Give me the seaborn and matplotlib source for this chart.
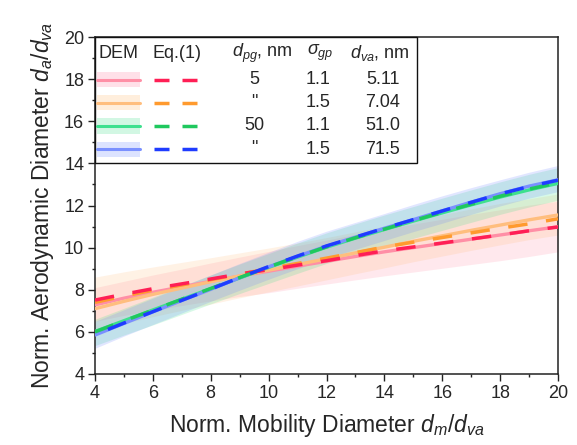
import numpy as np
import pandas as pd
import matplotlib
matplotlib.use("Agg")
import matplotlib.pyplot as plt
from matplotlib.ticker import AutoMinorLocator
from matplotlib.patches import Rectangle
from matplotlib.lines import Line2D
import seaborn as sns

# ---------------- data ----------------
x_vals = [4, 5, 6, 7, 8, 9, 10, 11, 12, 13, 14, 15, 16, 17, 18, 19, 20]

# Eq.(1) curves
eq_red    = [7.51, 7.79, 8.05, 8.28, 8.51, 8.75, 8.95, 9.17, 9.38, 9.62, 9.85, 10.03, 10.22, 10.41, 10.60, 10.80, 10.98]
eq_orange = [7.40, 7.70, 7.98, 8.23, 8.48, 8.74, 9.00, 9.25, 9.50, 9.76, 10.03, 10.26, 10.48, 10.70, 10.92, 11.13, 11.37]
eq_green  = [6.00, 6.52, 7.03, 7.55, 8.06, 8.58, 9.08, 9.57, 10.04, 10.47, 10.88, 11.28, 11.68, 12.06, 12.44, 12.78, 13.08]
eq_blue   = [5.87, 6.42, 6.96, 7.50, 8.03, 8.58, 9.10, 9.60, 10.08, 10.50, 10.92, 11.33, 11.74, 12.15, 12.55, 12.90, 13.20]

# DEM mean curves
dem_red    = [7.28, 7.60, 7.88, 8.14, 8.40, 8.65, 8.88, 9.12, 9.35, 9.58, 9.80, 10.00, 10.20, 10.40, 10.60, 10.80, 10.99]
dem_orange = [7.10, 7.45, 7.78, 8.08, 8.38, 8.66, 8.93, 9.20, 9.47, 9.75, 10.02, 10.30, 10.56, 10.82, 11.07, 11.32, 11.55]
dem_green  = [6.02, 6.53, 7.04, 7.55, 8.05, 8.56, 9.06, 9.55, 10.02, 10.45, 10.86, 11.26, 11.65, 12.03, 12.40, 12.74, 13.05]
dem_blue   = [5.85, 6.40, 6.95, 7.49, 8.02, 8.57, 9.09, 9.59, 10.07, 10.50, 10.92, 11.33, 11.75, 12.16, 12.56, 12.92, 13.22]

# DEM spread (lower / upper edges of shaded bands)
lo_red    = [6.50, 6.78, 7.02, 7.25, 7.47, 7.68, 7.86, 8.07, 8.27, 8.47, 8.66, 8.84, 9.02, 9.20, 9.38, 9.58, 9.80]
hi_red    = [8.10, 8.40, 8.70, 8.98, 9.27, 9.55, 9.82, 10.10, 10.36, 10.63, 10.88, 11.12, 11.35, 11.58, 11.80, 12.02, 12.20]
lo_orange = [6.05, 6.40, 6.72, 7.02, 7.32, 7.62, 7.90, 8.18, 8.47, 8.76, 9.04, 9.33, 9.60, 9.87, 10.13, 10.38, 10.60]
hi_orange = [8.60, 8.85, 9.08, 9.30, 9.52, 9.75, 9.98, 10.22, 10.48, 10.75, 11.02, 11.30, 11.57, 11.84, 12.10, 12.32, 12.55]
lo_green  = [5.35, 5.85, 6.33, 6.83, 7.33, 7.82, 8.30, 8.78, 9.25, 9.66, 10.05, 10.44, 10.82, 11.20, 11.58, 11.93, 12.25]
hi_green  = [6.60, 7.12, 7.65, 8.18, 8.70, 9.22, 9.72, 10.22, 10.70, 11.13, 11.55, 11.95, 12.35, 12.74, 13.12, 13.48, 13.80]
lo_blue   = [5.22, 5.80, 6.35, 6.90, 7.45, 7.98, 8.50, 9.00, 9.48, 9.92, 10.34, 10.76, 11.16, 11.58, 11.98, 12.35, 12.66]
hi_blue   = [6.50, 7.05, 7.60, 8.15, 8.70, 9.25, 9.78, 10.30, 10.78, 11.20, 11.62, 12.05, 12.46, 12.85, 13.22, 13.58, 13.90]

# legend table
leg_dpg = ["5", '"', "50", '"']
leg_sig = ["1.1", "1.5", "1.1", "1.5"]
leg_dva = ["5.11", "7.04", "51.0", "71.5"]

x_ticks = [4, 6, 8, 10, 12, 14, 16, 18, 20]
y_ticks = [4, 6, 8, 10, 12, 14, 16, 18, 20]

# ---------------- styling ----------------
sns.set_theme(style="ticks")
plt.rcParams["font.family"] = ["Liberation Sans", "DejaVu Sans"]
plt.rcParams["mathtext.fontset"] = "custom"
plt.rcParams["mathtext.rm"] = "Liberation Sans"
plt.rcParams["mathtext.it"] = "Liberation Sans:italic"
plt.rcParams["mathtext.bf"] = "Liberation Sans:bold"

dash_cols = ["#FF1F55", "#FF9A2E", "#1FC85E", "#1F3CFF"]
solid_cols = ["#FF8FA6", "#FFBE7E", "#3EE08E", "#7A90FF"]
band_cols = ["#FF7A98", "#FFB466", "#3AE28A", "#6A84FF"]
band_alpha = [0.17, 0.17, 0.20, 0.20]

W, H = 577, 445
fig = plt.figure(figsize=(W / 100, H / 100), dpi=100)
ax = fig.add_axes([95 / W, 1 - 374 / H, (558 - 95) / W, (374 - 37) / H])

dems = [dem_red, dem_orange, dem_green, dem_blue]
eqs = [eq_red, eq_orange, eq_green, eq_blue]
los = [lo_red, lo_orange, lo_green, lo_blue]
his = [hi_red, hi_orange, hi_green, hi_blue]

for i in range(4):
    ax.fill_between(x_vals, los[i], his[i], color=band_cols[i], alpha=band_alpha[i], lw=0, zorder=1)

for i in range(4):
    df = pd.DataFrame({"x": x_vals, "y": dems[i]})
    sns.lineplot(data=df, x="x", y="y", ax=ax, color=solid_cols[i], lw=2.4, zorder=3)

offsets = [0, 0, 0, 7]
order = [1, 0, 2, 3]
for i in order:
    df = pd.DataFrame({"x": x_vals, "y": eqs[i]})
    sns.lineplot(data=df, x="x", y="y", ax=ax, color=dash_cols[i], lw=2.5, zorder=4,
                 linestyle=(offsets[i], (5.6, 5.4)))

ax.set_xlim(4, 20)
ax.set_ylim(4, 20)
ax.set_xticks(x_ticks)
ax.set_yticks(y_ticks)
ax.xaxis.set_minor_locator(AutoMinorLocator(2))
ax.yaxis.set_minor_locator(AutoMinorLocator(2))
ax.tick_params(which="major", direction="out", length=4.8, width=1.0, color="#222222",
               labelsize=13, pad=3, bottom=True, left=True, top=False, right=False)
ax.tick_params(which="minor", direction="out", length=2.5, width=1.0, color="#222222",
               bottom=True, left=True, top=False, right=False)
for sp in ax.spines.values():
    sp.set_visible(True)
    sp.set_color("#222222")
    sp.set_linewidth(1.1)

ax.set_xlabel(r"Norm. Mobility Diameter $d_m/d_{va}$", fontsize=16.5, labelpad=7)
ax.set_ylabel(r"Norm. Aerodynamic Diameter $d_a/d_{va}$", fontsize=16.5, labelpad=6)

# ---------------- legend table (figure pixel coordinates) ----------------
def fx(px):
    return px / W

def fy(py):
    return 1 - py / H

tf = fig.transFigure
box = Rectangle((fx(95), fy(163)), fx(417) - fx(95), fy(37) - fy(163), transform=tf,
                fill=True, facecolor="white", edgecolor="#111111", lw=1.0, zorder=10)
fig.patches.append(box)

hdr_y = 53
fs = 13
fig.text(fx(118), fy(hdr_y), "DEM", ha="center", va="center", fontsize=fs, zorder=11)
fig.text(fx(177), fy(hdr_y), "Eq.(1)", ha="center", va="center", fontsize=fs, zorder=11)
fig.text(fx(262), fy(hdr_y), r"$d_{pg}$, nm", ha="center", va="center", fontsize=fs, zorder=11)
fig.text(fx(320), fy(hdr_y), r"$\sigma_{gp}$", ha="center", va="center", fontsize=fs, zorder=11)
fig.text(fx(380), fy(hdr_y), r"$d_{va}$, nm", ha="center", va="center", fontsize=fs, zorder=11)

row_y = [79.5, 102.5, 126, 149]
leg_band = ["#FFE0E8", "#FFEEDC", "#D2F7E3", "#DCE3FF"]
for i, ry in enumerate(row_y):
    fig.patches.append(Rectangle((fx(97), fy(ry + 7.5)), fx(140) - fx(97), fy(ry - 7.5) - fy(ry + 7.5),
                                 transform=tf, facecolor=leg_band[i], edgecolor="none", zorder=11))
    fig.lines.append(Line2D([fx(97), fx(140)], [fy(ry), fy(ry)], transform=tf,
                            color=solid_cols[i], lw=2.2, zorder=12))
    for a, b in [(154, 169), (182, 197)]:
        fig.lines.append(Line2D([fx(a), fx(b)], [fy(ry), fy(ry)], transform=tf,
                                color=dash_cols[i], lw=2.5, solid_capstyle="butt", zorder=12))
    fig.text(fx(254), fy(ry), leg_dpg[i], ha="center", va="center", fontsize=fs, zorder=12)
    fig.text(fx(318), fy(ry), leg_sig[i], ha="center", va="center", fontsize=fs, zorder=12)
    fig.text(fx(383), fy(ry), leg_dva[i], ha="center", va="center", fontsize=fs, zorder=12)

fig.savefig("out.png", dpi=100)
